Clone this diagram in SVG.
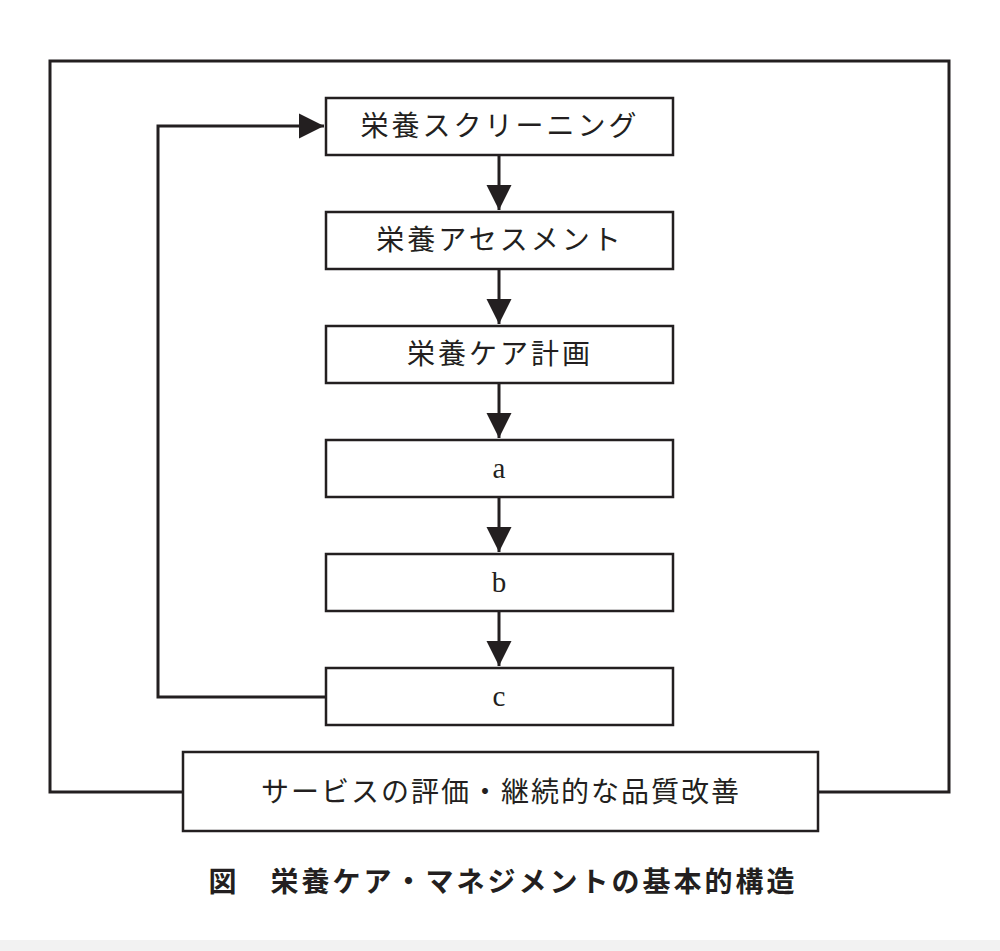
<svg xmlns="http://www.w3.org/2000/svg" width="1000" height="951" viewBox="0 0 1000 951">
<style>
.b{fill:#fff;stroke:#231f20;stroke-width:2.5}
.l{fill:none;stroke:#231f20;stroke-width:3}
.t{font-family:"Liberation Serif","Noto Sans CJK JP",serif;font-size:28px;fill:#231f20;text-anchor:middle;dominant-baseline:central;letter-spacing:3px}
.s{font-family:"Liberation Serif",serif;font-size:29px;fill:#231f20;text-anchor:middle;dominant-baseline:central}
.c{font-family:"Noto Sans CJK JP",sans-serif;font-size:28px;font-weight:bold;fill:#231f20;text-anchor:middle;dominant-baseline:central;letter-spacing:3px}
</style>
<defs><marker id="m" viewBox="0 0 10 10" refX="10" refY="5" markerWidth="8.5" markerHeight="8.5" orient="auto"><path d="M0,0L10,5L0,10z" fill="#231f20"/></marker></defs>
<rect width="1000" height="951" fill="#fff"/>
<rect x="0" y="940" width="1000" height="11" fill="#f2f2f2"/>
<g id="connectors">
<path class="l" d="M183,792H50V61H949V792H818"/>
<path class="l" d="M499,155V210" marker-end="url(#m)"/>
<path class="l" d="M499,269V324" marker-end="url(#m)"/>
<path class="l" d="M499,383V438" marker-end="url(#m)"/>
<path class="l" d="M499,497V552" marker-end="url(#m)"/>
<path class="l" d="M499,611V666" marker-end="url(#m)"/>
<path class="l" d="M326,697H158V126H324" marker-end="url(#m)"/>
</g>
<g id="n1"><rect class="b" x="326" y="98" width="347" height="57"/><text class="t" x="500" y="126">栄養スクリーニング</text></g>
<g id="n2"><rect class="b" x="326" y="212" width="347" height="57"/><text class="t" x="500" y="240">栄養アセスメント</text></g>
<g id="n3"><rect class="b" x="326" y="326" width="347" height="57"/><text class="t" x="500" y="354">栄養ケア計画</text></g>
<g id="na"><rect class="b" x="326" y="440" width="347" height="57"/><text class="s" x="499" y="468">a</text></g>
<g id="nb"><rect class="b" x="326" y="554" width="347" height="57"/><text class="s" x="499" y="582">b</text></g>
<g id="nc"><rect class="b" x="326" y="668" width="347" height="57"/><text class="s" x="499" y="696">c</text></g>
<g id="n4"><rect class="b" x="183" y="752" width="635" height="79"/><text class="t" x="501" y="792" style="letter-spacing:2px">サービスの評価・継続的な品質改善</text></g>
<text class="c" x="503" y="880">図　栄養ケア・マネジメントの基本的構造</text>
</svg>
